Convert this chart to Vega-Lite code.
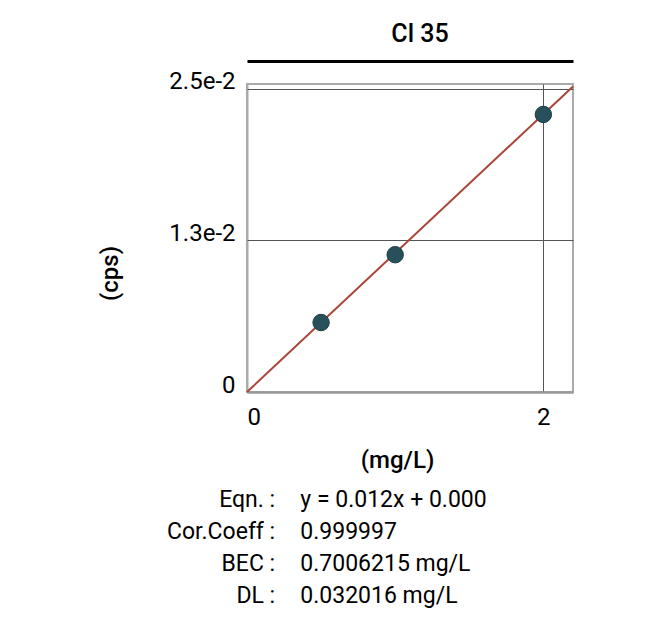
{
  "$schema": "https://vega.github.io/schema/vega-lite/v6.json",
  "background": "white",
  "padding": {"left": 97, "top": 21, "right": 5, "bottom": 5},
  "config": {
    "font": "Roboto",
    "view": {"stroke": null},
    "text": {"font": "Roboto"}
  },
  "datasets": {
    "points": [
      {"conc": 0.5, "cps": 0.00573},
      {"conc": 1.0, "cps": 0.01132},
      {"conc": 2.0, "cps": 0.02289}
    ],
    "fit": [
      {"conc": 0, "cps": 0},
      {"conc": 2.2, "cps": 0.0252}
    ],
    "stats": [
      {"k": 1, "label": "Eqn. :", "value": "y = 0.012x + 0.000"},
      {"k": 2, "label": "Cor.Coeff :", "value": "0.999997"},
      {"k": 3, "label": "BEC :", "value": "0.7006215 mg/L"},
      {"k": 4, "label": "DL :", "value": "0.032016 mg/L"}
    ]
  },
  "spacing": 11,
  "vconcat": [
    {
      "width": 326,
      "height": 308,
      "view": {"stroke": "#aaaaaa", "strokeWidth": 2},
      "title": {"text": "Cl 35", "fontSize": 25, "fontWeight": 500, "font": "Roboto", "color": "black", "offset": 14, "dx": 10},
      "resolve": {"axis": {"x": "independent"}},
      "layer": [
        {
          "data": {"name": "fit"},
          "mark": {"type": "line", "color": "#aa4639", "strokeWidth": 2},
          "encoding": {
            "x": {
              "field": "conc", "type": "quantitative",
              "scale": {"domain": [0, 2.2], "nice": false, "zero": false},
              "axis": {"orient": "top", "title": null, "labels": false, "ticks": false, "grid": false, "domain": true, "domainColor": "black", "domainWidth": 3, "offset": 23}
            },
            "y": {
              "field": "cps", "type": "quantitative",
              "scale": {"domain": [0, 0.0254], "nice": false},
              "axis": {
                "title": "(cps)", "titleFontSize": 24, "titleFontWeight": 500, "titleColor": "black", "titleFont": "Roboto",
                "titlePadding": 46, "titleY": 189,
                "values": [0, 0.0125, 0.025],
                "labelExpr": "datum.value === 0 ? '0' : (datum.value < 0.02 ? '1.3e-2' : '2.5e-2')",
                "labelFontSize": 24, "labelColor": "black", "labelFont": "Roboto", "labelPadding": 12, "labelBaseline": "alphabetic",
                "ticks": false, "domain": false,
                "grid": true,
                "gridColor": {"condition": {"test": "datum.value === 0", "value": "#999999"}, "value": "#555555"},
                "gridWidth": {"condition": {"test": "datum.value === 0", "value": 2.5}, "value": 1}
              }
            }
          }
        },
        {
          "data": {"name": "points"},
          "mark": {"type": "point", "filled": true, "size": 270, "color": "#27505a", "opacity": 1, "stroke": "#1e3d45", "strokeWidth": 1},
          "encoding": {
            "x": {
              "field": "conc", "type": "quantitative",
              "axis": {
                "orient": "bottom", "title": "(mg/L)", "titleFontSize": 24, "titleFontWeight": 500, "titleColor": "black", "titleFont": "Roboto",
                "titlePadding": 19, "titleX": 150,
                "values": [0, 2], "format": "d",
                "labelFontSize": 24, "labelColor": "black", "labelFont": "Roboto", "labelPadding": 13, "labelDx": 5,
                "ticks": false, "domain": false,
                "grid": true,
                "gridColor": {"condition": {"test": "datum.value === 0", "value": "#aaaaaa"}, "value": "#555555"},
                "gridWidth": {"condition": {"test": "datum.value === 0", "value": 2}, "value": 1}
              }
            },
            "y": {"field": "cps", "type": "quantitative"}
          }
        }
      ]
    },
    {
      "width": 326,
      "height": 128,
      "view": {"stroke": null},
      "data": {"name": "stats"},
      "encoding": {
        "y": {"field": "k", "type": "ordinal", "axis": null, "scale": {"paddingInner": 0, "paddingOuter": 0}}
      },
      "layer": [
        {
          "mark": {"type": "text", "align": "right", "baseline": "middle", "fontSize": 23, "font": "Roboto", "color": "black"},
          "encoding": {
            "x": {"datum": 0.19, "type": "quantitative", "scale": {"domain": [0, 2.2], "nice": false}, "axis": null},
            "text": {"field": "label"}
          }
        },
        {
          "mark": {"type": "text", "align": "left", "baseline": "middle", "fontSize": 23, "font": "Roboto", "color": "black"},
          "encoding": {
            "x": {"datum": 0.36, "type": "quantitative"},
            "text": {"field": "value"}
          }
        }
      ]
    }
  ]
}
